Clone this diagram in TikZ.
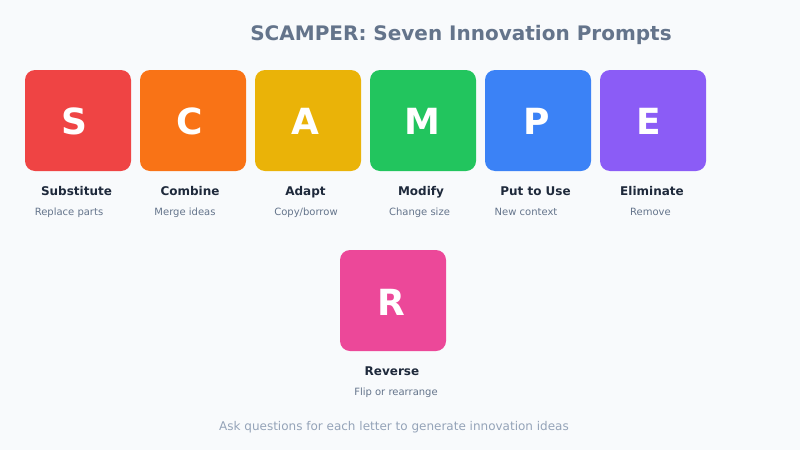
\documentclass[tikz,border=0pt]{standalone}
\usepackage{fontspec}
\setmainfont{DejaVu Sans}

\definecolor{bgpage}{HTML}{F8FAFC}
\definecolor{titlegray}{HTML}{64748B}
\definecolor{labeldark}{HTML}{1E293B}
\definecolor{notegray}{HTML}{94A3B8}
\definecolor{cardS}{HTML}{EF4444}
\definecolor{cardC}{HTML}{F97316}
\definecolor{cardA}{HTML}{EAB308}
\definecolor{cardM}{HTML}{22C55E}
\definecolor{cardP}{HTML}{3B82F6}
\definecolor{cardE}{HTML}{8B5CF6}
\definecolor{cardR}{HTML}{EC4899}

\begin{document}
\begin{tikzpicture}[
    x = 1pt,
    y = -1pt,
    card/.style = {
      rounded corners = 10pt,
      minimum width = 106pt,
      minimum height = 101pt,
      inner sep = 0pt
    },
    letter/.style = {
      text = white,
      inner sep = 0pt,
      font = \fontsize{36}{40}\selectfont\bfseries
    },
    word/.style = {
      anchor = base,
      text = labeldark,
      inner sep = 0pt,
      font = \fontsize{12}{14}\selectfont\bfseries
    },
    hint/.style = {
      anchor = base,
      text = titlegray,
      inner sep = 0pt,
      font = \fontsize{10}{12}\selectfont
    }
  ]
  \fill[bgpage] (0,0) rectangle (800,450);
  \useasboundingbox (0,0) rectangle (800,450);

  \node[anchor = base, text = titlegray, inner sep = 0pt,
    font = \fontsize{20}{24}\selectfont\bfseries]
    (title) at (461,40) {SCAMPER: Seven Innovation Prompts};

  % first row of cards
  \node[card, fill = cardS] (S) at (78,120.5)  {};
  \node[card, fill = cardC] (C) at (193,120.5) {};
  \node[card, fill = cardA] (A) at (308,120.5) {};
  \node[card, fill = cardM] (M) at (423,120.5) {};
  \node[card, fill = cardP] (P) at (538,120.5) {};
  \node[card, fill = cardE] (E) at (653,120.5) {};

  \node[letter] (Sletter) at (74.7,121.7)  {S};
  \node[letter] (Cletter) at (190,121.7)   {C};
  \node[letter] (Aletter) at (305.5,121.7) {A};
  \node[letter] (Mletter) at (422.8,121.7) {M};
  \node[letter] (Pletter) at (536.5,121.7) {P};
  \node[letter] (Eletter) at (649,121.7)   {E};

  \node[word] (Sword) at (76.5,195) {Substitute};
  \node[word] (Cword) at (190,195)  {Combine};
  \node[word] (Aword) at (305.5,195) {Adapt};
  \node[word] (Mword) at (421,195)  {Modify};
  \node[word] (Pword) at (535.5,195) {Put to Use};
  \node[word] (Eword) at (652,195)  {Eliminate};

  \node[hint] (Shint) at (69,215)    {Replace parts};
  \node[hint] (Chint) at (185,215)   {Merge ideas};
  \node[hint] (Ahint) at (306,215)   {Copy/borrow};
  \node[hint] (Mhint) at (419.5,215) {Change size};
  \node[hint] (Phint) at (526,215)   {New context};
  \node[hint] (Ehint) at (650.5,215) {Remove};

  % the odd one out
  \node[card, fill = cardR] (R) at (393,300.5) {};
  \node[letter] (Rletter) at (391,302.2) {R};
  \node[word] (Rword) at (392,375) {Reverse};
  \node[hint] (Rhint) at (396,395) {Flip or rearrange};

  \node[anchor = base, text = notegray, inner sep = 0pt,
    font = \fontsize{12}{14}\selectfont]
    (note) at (394,430) {Ask questions for each letter to generate innovation ideas};
\end{tikzpicture}
\end{document}
